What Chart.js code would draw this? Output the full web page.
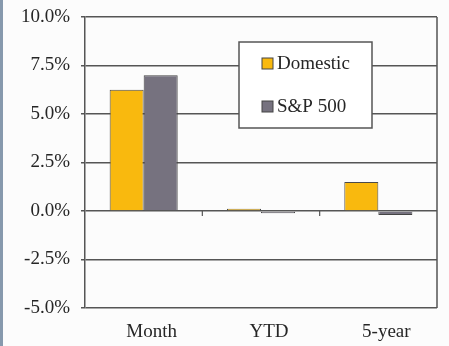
<!DOCTYPE html>
<html>
<head>
<meta charset="utf-8">
<script src="https://cdn.jsdelivr.net/npm/chart.js@4"></script>
<style>
html,body{margin:0;padding:0;background:#fcfcfc;}
canvas{display:block;}
</style>
</head>
<body>
<canvas id="c" width="449" height="346"></canvas>
<script>
const categories = ['Month', 'YTD', '5-year'];
const seriesNames = ['Domestic', 'S&P 500'];
const domestic = [6.25, 0.12, 1.5];
const sp500 = [7.0, -0.12, -0.2];
const yTicks = [-5, -2.5, 0, 2.5, 5, 7.5, 10];

const FONT = '"Liberation Serif", "Times New Roman", serif';
const GRID = '#555555';
const TEXT = '#262626';
const colors = ['#F9B90E', '#76727F'];

const bgPlugin = {
  id: 'bg',
  beforeDraw(chart) {
    const ctx = chart.ctx;
    ctx.save();
    ctx.fillStyle = '#fcfcfc';
    ctx.fillRect(0, 0, chart.width, chart.height);
    ctx.fillStyle = '#8799ad';
    ctx.fillRect(0, 0, 3, chart.height);
    ctx.restore();
  }
};

const framePlugin = {
  id: 'frame',
  afterDatasetsDraw(chart) {
    const ctx = chart.ctx;
    const a = chart.chartArea;
    const x = chart.scales.x, y = chart.scales.y;
    ctx.save();
    ctx.strokeStyle = GRID;
    ctx.lineWidth = 1.5;
    ctx.beginPath();
    ctx.moveTo(a.right, a.top);
    ctx.lineTo(a.right, a.bottom);
    ctx.stroke();
    const y0 = y.getPixelForValue(0);
    ctx.lineWidth = 1.2;
    for (let i = 1; i < categories.length; i++) {
      const px = (x.getPixelForValue(i - 1) + x.getPixelForValue(i)) / 2;
      ctx.beginPath();
      ctx.moveTo(px, y0);
      ctx.lineTo(px, y0 + 5);
      ctx.stroke();
    }
    ctx.restore();
  },
  afterDraw(chart) {
    const ctx = chart.ctx;
    const a = chart.chartArea;
    const bx = a.left + 154, by = a.top + 25, bw = 133, bh = 86;
    ctx.save();
    ctx.fillStyle = '#ffffff';
    ctx.fillRect(bx, by, bw, bh);
    ctx.strokeStyle = GRID;
    ctx.lineWidth = 1.5;
    ctx.strokeRect(bx, by, bw, bh);
    ctx.font = '19px ' + FONT;
    ctx.textBaseline = 'alphabetic';
    chart.data.datasets.forEach((ds, i) => {
      const sy = by + 16 + i * 43;
      ctx.fillStyle = ds.backgroundColor;
      ctx.fillRect(bx + 23, sy, 11, 11);
      ctx.strokeStyle = '#444';
      ctx.lineWidth = 1;
      ctx.strokeRect(bx + 23, sy, 11, 11);
      ctx.fillStyle = TEXT;
      ctx.fillText(ds.label, bx + 38, sy + 11);
    });
    ctx.restore();
  }
};

new Chart(document.getElementById('c'), {
  type: 'bar',
  data: {
    labels: categories,
    datasets: [
      { label: seriesNames[0], data: domestic, backgroundColor: colors[0], borderColor: '#4a4a4a', borderWidth: 1 },
      { label: seriesNames[1], data: sp500, backgroundColor: colors[1], borderColor: '#444', borderWidth: 1 }
    ]
  },
  options: {
    responsive: false,
    animation: false,
    layout: { padding: { left: 0, right: 12, top: 17, bottom: 0 } },
    datasets: { bar: { categoryPercentage: 0.58, barPercentage: 1.0 } },
    plugins: { legend: { display: false }, tooltip: { enabled: false } },
    scales: {
      x: {
        grid: { display: false, drawTicks: false },
        border: { display: false },
        ticks: { font: { family: FONT, size: 19 }, color: TEXT, padding: 13, labelOffset: 8 },
        afterFit(s) { s.height = 38; s.paddingLeft = 0; s.paddingRight = 0; }
      },
      y: {
        min: -5, max: 10,
        afterBuildTicks(s) { s.ticks = yTicks.map(v => ({ value: v })); },
        grid: { color: GRID, lineWidth: 1.5, tickLength: 4, drawTicks: true },
        border: { display: true, color: GRID, width: 1.5 },
        ticks: {
          font: { family: FONT, size: 19 }, color: TEXT, padding: 11,
          callback: v => v.toFixed(1) + '%'
        },
        afterFit(s) { s.width = 85; s.paddingTop = 0; s.paddingBottom = 0; }
      }
    }
  },
  plugins: [bgPlugin, framePlugin]
});
</script>
</body>
</html>
